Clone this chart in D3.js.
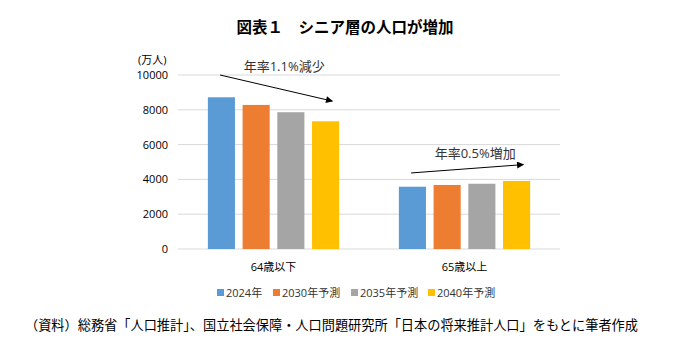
<!DOCTYPE html>
<html>
<head>
<meta charset="utf-8">
<script src="https://cdn.jsdelivr.net/npm/d3@7"></script>
<style>
  body { margin: 0; background: #fff; }
  svg text { font-family: "Open Sans", "Noto Sans CJK JP", sans-serif; }
</style>
</head>
<body>
<div id="chart"></div>
<script>
// data (万人)
const categories = ["64歳以下", "65歳以上"];
const seriesNames = ["2024年", "2030年予測", "2035年予測", "2040年予測"];
const seriesColors = ["#5b9bd5", "#ed7d31", "#a5a5a5", "#ffc000"];
const under65 = [8720, 8280, 7860, 7340];
const over65 = [3580, 3680, 3750, 3910];
const yTicks = [0, 2000, 4000, 6000, 8000, 10000];

// trend arrows: from (series idx, value) to (series idx, value)
const arrows = [
  {cat: "64歳以下", label: "年率1.1%減少", from: [0, 10000], to: [3, 8500]},
  {cat: "65歳以上", label: "年率0.5%増加", from: [0, 4370], to: [3, 4850]}
];

const W = 680, H = 354;
const margin = {top: 75, right: 120, bottom: 105, left: 178},
  width = W - margin.left - margin.right,
  height = H - margin.top - margin.bottom;

const svg = d3.select("#chart")
  .append("svg")
  .attr("width", W)
  .attr("height", H)
  .attr("viewBox", `0 0 ${W} ${H}`);

svg.append("defs").append("marker")
  .attr("id", "arrow")
  .attr("viewBox", "0 0 10 10")
  .attr("refX", 9).attr("refY", 5)
  .attr("markerWidth", 9).attr("markerHeight", 7)
  .attr("markerUnits", "userSpaceOnUse")
  .attr("orient", "auto")
  .append("path")
  .attr("d", "M0,0 L10,5 L0,10 z")
  .attr("fill", "#000");

const g = svg.append("g")
  .attr("transform", `translate(${margin.left},${margin.top})`);

const x = d3.scaleBand()
  .domain(categories)
  .range([0, width]);

const x1 = d3.scaleBand()
  .domain(d3.range(seriesNames.length))
  .range([0, x.bandwidth()])
  .paddingInner(0.22)
  .paddingOuter(0.86);

const y = d3.scaleLinear()
  .domain([0, 10000])
  .range([height, 0]);

// gridlines
g.append("g")
  .selectAll("line")
  .data(yTicks)
  .join("line")
    .attr("x1", 0)
    .attr("x2", width)
    .attr("y1", d => y(d))
    .attr("y2", d => y(d))
    .attr("stroke", "#d9d9d9")
    .attr("stroke-width", 1);

// y axis labels
const yAxis = g.append("g")
  .attr("transform", "translate(-10,0)")
  .call(d3.axisLeft(y).tickValues(yTicks).tickFormat(d3.format("d")).tickSize(0).tickPadding(0));
yAxis.select(".domain").remove();
yAxis.selectAll("text")
  .attr("font-size", 11)
  .attr("fill", "#000")
  .style("font-family", "'Open Sans', sans-serif");

svg.append("text")
  .attr("x", 138)
  .attr("y", 64)
  .attr("font-size", 11)
  .text("(万人)");

// bars
const rows = categories.map((c, i) => ({cat: c, values: i === 0 ? under65 : over65}));
g.append("g")
  .selectAll("g")
  .data(rows)
  .join("g")
    .attr("transform", d => `translate(${x(d.cat)},0)`)
  .selectAll("rect")
  .data(d => d.values.map((v, i) => ({i, v})))
  .join("rect")
    .attr("x", d => x1(d.i))
    .attr("width", x1.bandwidth())
    .attr("y", d => y(d.v))
    .attr("height", d => height - y(d.v))
    .attr("fill", d => seriesColors[d.i]);

// category labels
g.append("g")
  .selectAll("text")
  .data(categories)
  .join("text")
    .attr("x", d => x(d) + x.bandwidth() / 2)
    .attr("y", height + 22)
    .attr("text-anchor", "middle")
    .attr("font-size", 11)
    .text(d => d);

// trend arrows
arrows.forEach(a => {
  const x0 = x(a.cat) + x1(a.from[0]) + x1.bandwidth() * 0.45;
  const xe = x(a.cat) + x1(a.to[0]) + x1.bandwidth() * 0.75;
  g.append("line")
    .attr("x1", x0).attr("y1", y(a.from[1]))
    .attr("x2", xe).attr("y2", y(a.to[1]))
    .attr("stroke", "#000")
    .attr("stroke-width", 1)
    .attr("marker-end", "url(#arrow)");
  g.append("text")
    .attr("x", (x0 + xe) / 2 + 8)
    .attr("y", y(a.from[1]) - (a.from[1] > 9000 ? 4 : 15))
    .attr("text-anchor", "middle")
    .attr("font-size", 13)
    .attr("fill", "#333")
    .text(a.label);
});

// legend
const legendX = [217, 273, 351, 428];
const legend = svg.append("g")
  .selectAll("g")
  .data(seriesNames)
  .join("g")
    .attr("transform", (d, i) => `translate(${legendX[i]},293)`);
legend.append("rect")
  .attr("x", 0).attr("y", -4)
  .attr("width", 7).attr("height", 7)
  .attr("fill", (d, i) => seriesColors[i]);
legend.append("text")
  .attr("x", 9)
  .attr("y", 4)
  .attr("font-size", 11)
  .attr("fill", "#333")
  .text(d => d);

// title
svg.append("text")
  .attr("x", 345)
  .attr("y", 33)
  .attr("text-anchor", "middle")
  .attr("font-size", 15.5)
  .attr("font-weight", "bold")
  .style("font-family", "'Noto Sans CJK JP', serif")
  .text("図表１　シニア層の人口が増加");

// source note
svg.append("text")
  .attr("x", 25)
  .attr("y", 330)
  .attr("font-size", 13.2)
  .style("font-family", "'Noto Sans CJK JP', serif")
  .text("（資料）総務省「人口推計」、国立社会保障・人口問題研究所「日本の将来推計人口」をもとに筆者作成");
</script>
</body>
</html>
